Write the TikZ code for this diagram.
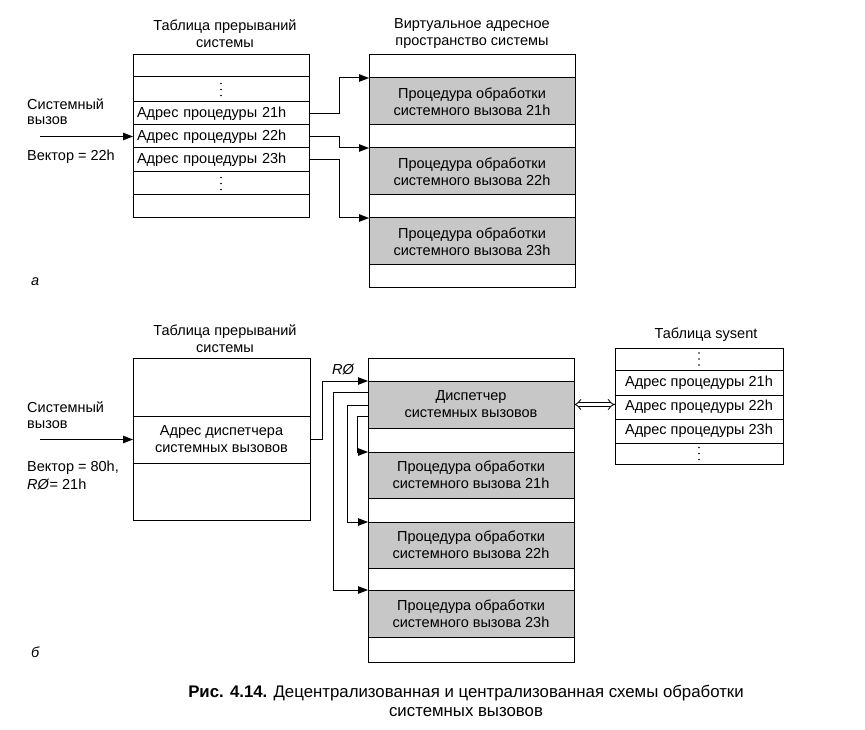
\documentclass[tikz,border=0pt]{standalone}
\usepackage{fontspec}
\setmainfont{Liberation Sans}
\usetikzlibrary{arrows.meta,calc}
\newcommand\fs{\fontsize{14.5}{17}\selectfont}
\newcommand\capfs{\fontsize{16.8}{19}\selectfont}
\begin{document}
\begin{tikzpicture}[x=1pt,y=-1pt,
  base/.style={draw, line width=1pt, anchor=north west, inner sep=0pt, outer sep=0pt, font=\fs},
  lcell/.style={base, minimum width=176pt, text width=168pt, inner xsep=4pt, align=left},
  ccell/.style={base, minimum width=176pt, align=center},
  bcell/.style={base, minimum width=177pt, align=center},
  vcell/.style={base, minimum width=206pt, align=center},
  shd/.style={fill=black!22},
  scell/.style={base, minimum width=168pt, align=center},
  conn/.style={line width=1pt, -{Triangle[length=10pt,width=7.5pt]}},
  dbl/.style={double, double distance=3pt, line width=0.8pt, {Implies}-{Implies}},
  lbl/.style={font=\fs, inner sep=0pt, anchor=west},
  ttl/.style={font=\fs, align=center, inner sep=0pt}]
\useasboundingbox (0,0) rectangle (865,730);

% ---------- part a ----------
\node[ttl] (t1) at (225,34) {Таблица прерываний\\системы};
\node[ttl] (t2) at (472,34) {Виртуальное адресное\\пространство системы};

\node[ccell, minimum height=22pt] (a0) at (133,55) {};
\node[ccell, minimum height=25pt] (a1) at (133,77) {};
\node[lcell, minimum height=23pt] (a2) at (133,102) {Адрес процедуры 21h};
\node[lcell, minimum height=23pt] (a3) at (133,125) {Адрес процедуры 22h};
\node[lcell, minimum height=24pt] (a4) at (133,148) {Адрес процедуры 23h};
\node[ccell, minimum height=23pt] (a5) at (133,172) {};
\node[ccell, minimum height=23pt] (a6) at (133,195) {};

\node[vcell, minimum height=23pt] (b0) at (369,55) {};
\node[vcell, shd, minimum height=47pt] (b1) at (369,78) {Процедура обработки\\системного вызова 21h};
\node[vcell, minimum height=23pt] (b2) at (369,125) {};
\node[vcell, shd, minimum height=47pt] (b3) at (369,148) {Процедура обработки\\системного вызова 22h};
\node[vcell, minimum height=23pt] (b4) at (369,195) {};
\node[vcell, shd, minimum height=47pt] (b5) at (369,218) {Процедура обработки\\системного вызова 23h};
\node[vcell, minimum height=22pt] (b6) at (369,265) {};

\draw[conn] (a2.east) -- ++(30,0) |- (b1.north west);
\draw[conn] (a3.east) -- ++(30,0) |- (b3.north west);
\draw[conn] (a4.east) -- ++(30,0) |- (b5.north west);

\node[lbl] (la1) at (27,104) {Системный};
\node[lbl] (la2) at (27,121) {вызов};
\node[lbl] (la3) at (27,157) {Вектор = 22h};
\coordinate (in1) at (40,136.5);
\draw[conn] (in1) -- (a3.west);

\node[lbl, font=\fs\itshape] (pa) at (31,282) {а};

% ---------- part b ----------
\node[ttl] (t3) at (225,339) {Таблица прерываний\\системы};
\node[ttl] (t4) at (706,335) {Таблица sysent};

\node[bcell, minimum height=58pt] (c0) at (133,358) {};
\node[bcell, minimum height=47pt] (c1) at (133,416) {Адрес диспетчера\\системных вызовов};
\node[bcell, minimum height=57pt] (c2) at (133,463) {};

\node[vcell, minimum height=23pt] (d0) at (368,358) {};
\node[vcell, shd, minimum height=47pt] (d1) at (368,381) {Диспетчер\\системных вызовов};
\node[vcell, minimum height=24pt] (d2) at (368,428) {};
\node[vcell, shd, minimum height=46pt] (d3) at (368,452) {Процедура обработки\\системного вызова 21h};
\node[vcell, minimum height=24pt] (d4) at (368,498) {};
\node[vcell, shd, minimum height=46pt] (d5) at (368,522) {Процедура обработки\\системного вызова 22h};
\node[vcell, minimum height=22pt] (d6) at (368,568) {};
\node[vcell, shd, minimum height=47pt] (d7) at (368,590) {Процедура обработки\\системного вызова 23h};
\node[vcell, minimum height=25pt] (d8) at (368,637) {};

\node[scell, minimum height=22pt] (s0) at (615,348) {};
\node[scell, minimum height=25pt] (s1) at (615,370) {Адрес процедуры 21h};
\node[scell, minimum height=24pt] (s2) at (615,395) {Адрес процедуры 22h};
\node[scell, minimum height=24pt] (s3) at (615,419) {Адрес процедуры 23h};
\node[scell, minimum height=21pt] (s4) at (615,443) {};

% vertical dots in the elided rows
\foreach \n in {a1,a5,s0,s4}
  \foreach \dy in {-6,0,6}
    \fill ($(\n.center)+(0,\dy)$) circle (0.9pt);

\node[lbl] (lb1) at (27,407) {Системный};
\node[lbl] (lb2) at (27,425) {вызов};
\node[lbl] (lb3) at (27,468) {Вектор = 80h,};
\node[lbl] (lb4) at (27,484) {\textit{RØ}= 21h};
\coordinate (in2) at (40,439.5);
\draw[conn] (in2) -- (c1.west);

\draw[conn] (c1.east) -- ++(12,0) |- (d1.north west);
\node[font=\fs\itshape, inner sep=0pt] (r0) at (343,369) {RØ};

\coordinate (o1) at ($(d1.north west)+(0,11)$);
\coordinate (o2) at ($(d1.north west)+(0,24)$);
\coordinate (o3) at ($(d1.north west)+(0,35)$);
\draw[conn] (o1) -- ++(-35,0) |- (d7.north west);
\draw[conn] (o2) -- ++(-21,0) |- (d5.north west);
\draw[conn] (o3) -- ++(-11,0) |- (d3.north west);

\draw[dbl] (d1.east) -- (d1.east -| s2.west);

\node[lbl, font=\fs\itshape] (pb) at (31,652) {б};

% ---------- caption ----------
\node[font=\capfs, align=center, inner sep=0pt] (cap) at (466,701)
  {\textbf{Рис. 4.14.} Децентрализованная и централизованная схемы обработки\\системных вызовов};
\end{tikzpicture}
\end{document}
